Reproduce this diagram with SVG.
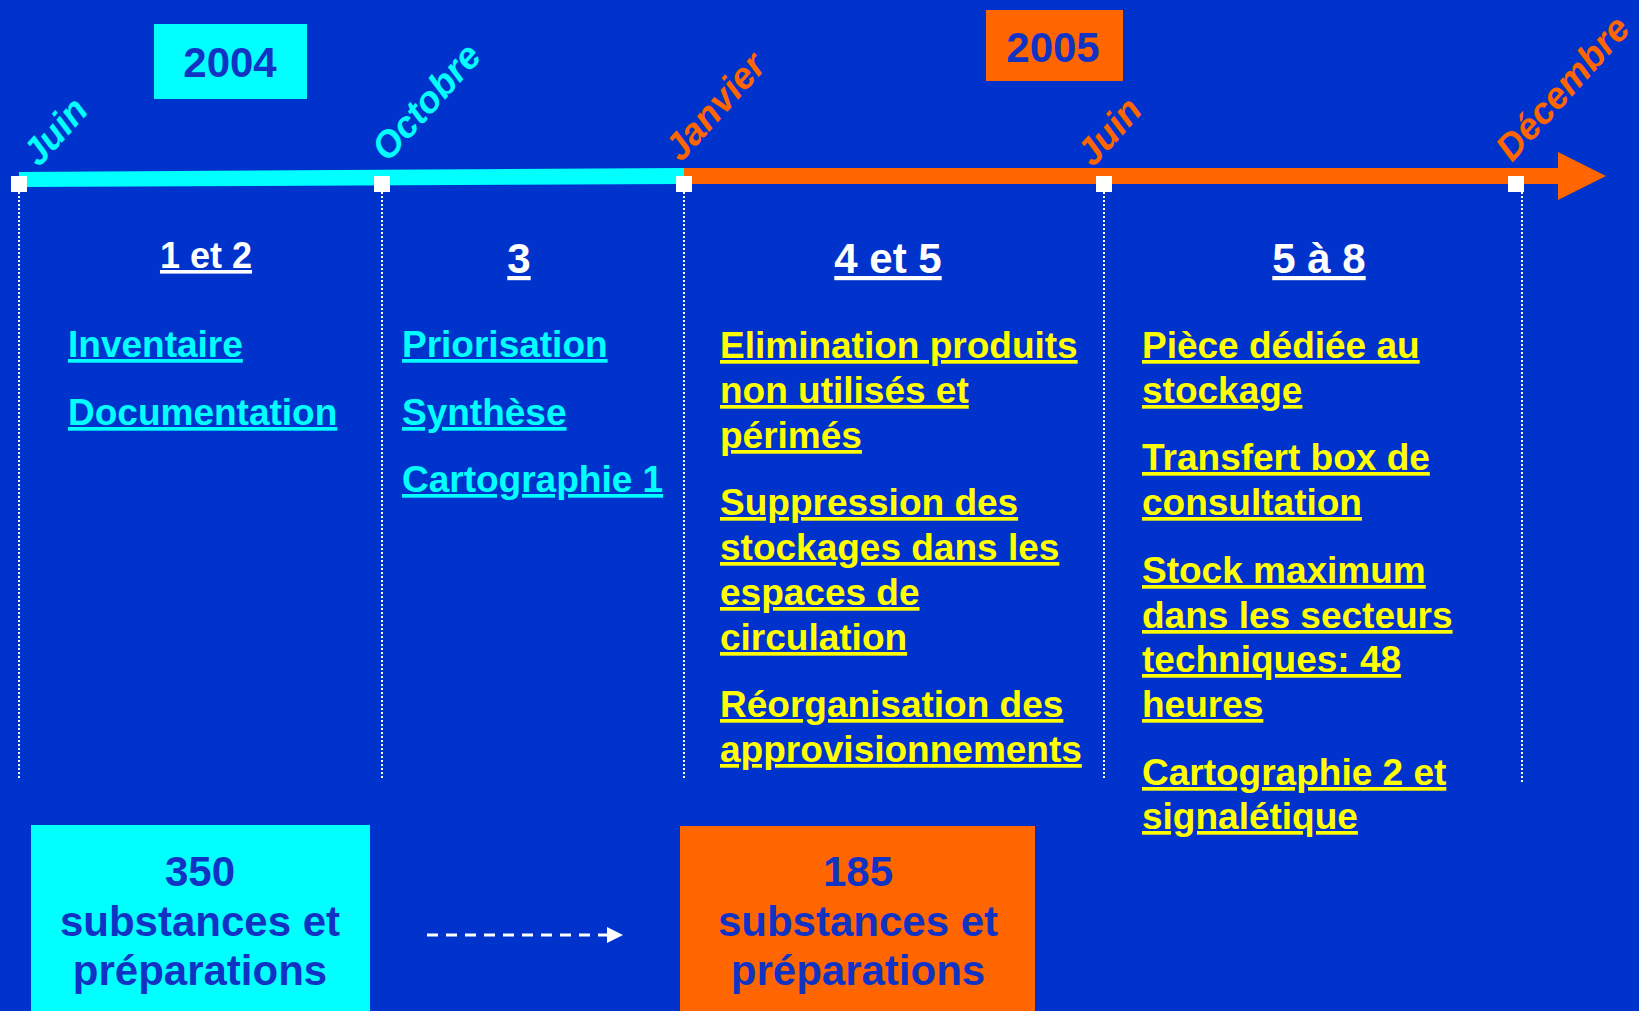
<svg xmlns="http://www.w3.org/2000/svg" width="1639" height="1011" viewBox="0 0 1639 1011">
<defs>
<style>
text{font-family:"Liberation Sans",Arial,sans-serif;font-weight:bold}
.year{font-size:42px;fill:#1133C4;text-anchor:middle}
.month{font-size:37px;font-style:italic}
.cy{fill:#00FFFF}
.or{fill:#FF6600}
.hd{fill:#FFFFFF;text-anchor:middle;text-decoration:underline;text-decoration-thickness:4px;text-underline-offset:5px}
.it{font-size:37px;text-decoration:underline;text-decoration-thickness:4px;text-underline-offset:5px}
.ic{fill:#00FFFF}
.iy{fill:#FFFF00}
.tick{fill:#FFFFFF}
.vline{stroke:#FFFFFF;stroke-width:2;stroke-dasharray:2 2;fill:none}
.big{font-size:42px;fill:#1133C4;text-anchor:middle}
</style>
<marker id="ah" markerWidth="16" markerHeight="16" refX="0" refY="8" orient="auto" markerUnits="userSpaceOnUse">
<path d="M0,0 L16,8 L0,16 Z" fill="#FFFFFF"/>
</marker>
</defs>
<rect x="0" y="0" width="1639" height="1011" fill="#0033CC"/>

<g id="timeline">
<polygon points="19,172 684,168 684,184 19,187" fill="#00FFFF"/>
<rect x="684" y="168" width="876" height="16" fill="#FF6600"/>
<polygon points="1558,152 1606,176 1558,200" fill="#FF6600"/>
</g>

<g id="guides">
<line class="vline" x1="19" y1="192" x2="19" y2="780"/>
<line class="vline" x1="382" y1="192" x2="382" y2="780"/>
<line class="vline" x1="684" y1="192" x2="684" y2="780"/>
<line class="vline" x1="1104" y1="192" x2="1104" y2="780"/>
<line class="vline" x1="1522" y1="192" x2="1522" y2="783"/>
</g>

<g id="ticks">
<rect class="tick" x="11" y="176" width="16" height="16"/>
<rect class="tick" x="374" y="176" width="16" height="16"/>
<rect class="tick" x="676" y="176" width="16" height="16"/>
<rect class="tick" x="1096" y="176" width="16" height="16"/>
<rect class="tick" x="1508" y="176" width="16" height="16"/>
</g>

<g id="year-2004">
<rect x="154" y="24" width="153" height="75" fill="#00FFFF"/>
<text class="year" x="230" y="77">2004</text>
</g>
<g id="year-2005">
<rect x="986" y="10" width="137" height="71" fill="#FF6600"/>
<text class="year" x="1053" y="62">2005</text>
</g>

<g id="months">
<text class="month cy" transform="translate(39,168) rotate(-48)">Juin</text>
<text class="month cy" transform="translate(388,163) rotate(-48)">Octobre</text>
<text class="month or" transform="translate(681,163) rotate(-48)">Janvier</text>
<text class="month or" transform="translate(1093,168) rotate(-48)">Juin</text>
<text class="month or" transform="translate(1512,163) rotate(-48)">Décembre</text>
</g>

<g id="col-1">
<text class="hd" x="206" y="268" style="font-size:36px">1 et 2</text>
<text class="it ic" x="68" y="357">Inventaire</text>
<text class="it ic" x="68" y="425">Documentation</text>
</g>

<g id="col-2">
<text class="hd" x="519" y="273" style="font-size:42px">3</text>
<text class="it ic" x="402" y="357">Priorisation</text>
<text class="it ic" x="402" y="425">Synthèse</text>
<text class="it ic" x="402" y="492">Cartographie 1</text>
</g>

<g id="col-3">
<text class="hd" x="888" y="273" style="font-size:42px">4 et 5</text>
<text class="it iy" x="720" y="358">Elimination produits</text>
<text class="it iy" x="720" y="403">non utilisés et</text>
<text class="it iy" x="720" y="448">périmés</text>
<text class="it iy" x="720" y="515">Suppression des</text>
<text class="it iy" x="720" y="560">stockages dans les</text>
<text class="it iy" x="720" y="605">espaces de</text>
<text class="it iy" x="720" y="650">circulation</text>
<text class="it iy" x="720" y="717">Réorganisation des</text>
<text class="it iy" x="720" y="762">approvisionnements</text>
</g>

<g id="col-4">
<text class="hd" x="1319" y="273" style="font-size:42px">5 à 8</text>
<text class="it iy" x="1142" y="358">Pièce dédiée au</text>
<text class="it iy" x="1142" y="403">stockage</text>
<text class="it iy" x="1142" y="470">Transfert box de</text>
<text class="it iy" x="1142" y="515">consultation</text>
<text class="it iy" x="1142" y="583">Stock maximum</text>
<text class="it iy" x="1142" y="628">dans les secteurs</text>
<text class="it iy" x="1142" y="672">techniques: 48</text>
<text class="it iy" x="1142" y="717">heures</text>
<text class="it iy" x="1142" y="785">Cartographie 2 et</text>
<text class="it iy" x="1142" y="829">signalétique</text>
</g>

<g id="box-350">
<rect x="31" y="825" width="339" height="190" fill="#00FFFF"/>
<text class="big" x="200" y="886">350</text>
<text class="big" x="200" y="936">substances et</text>
<text class="big" x="200" y="985">préparations</text>
</g>

<g id="box-185">
<rect x="680" y="826" width="355" height="190" fill="#FF6600"/>
<text class="big" x="858" y="886">185</text>
<text class="big" x="858" y="936">substances et</text>
<text class="big" x="858" y="985">préparations</text>
</g>

<g id="connectors">
<line x1="427" y1="935" x2="607" y2="935" stroke="#FFFFFF" stroke-width="3" stroke-dasharray="11 8" marker-end="url(#ah)"/>
</g>
</svg>
